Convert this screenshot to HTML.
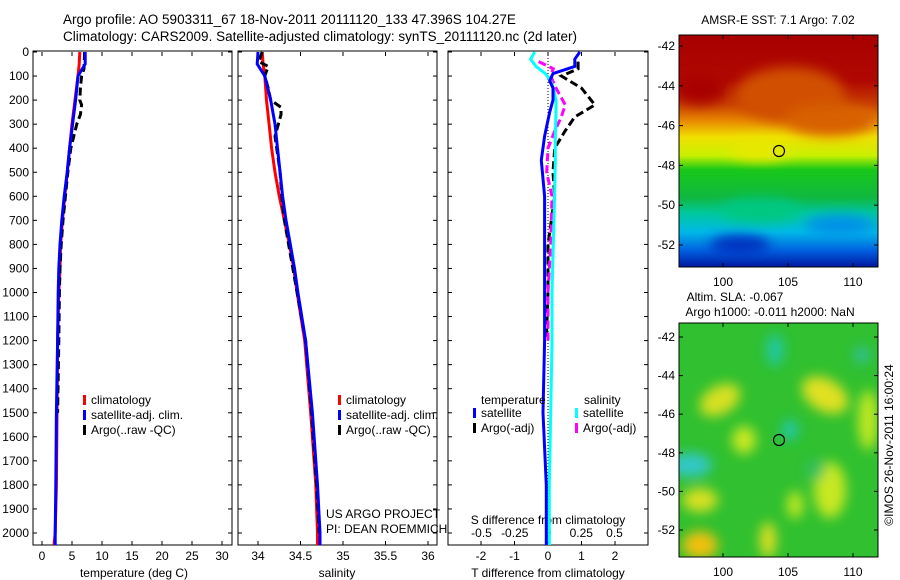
<!DOCTYPE html>
<html><head><meta charset="utf-8"><style>
html,body{margin:0;padding:0;background:#fff}
svg{display:block;font-family:"Liberation Sans",sans-serif;font-size:12px}
</style></head><body>
<svg id="fig" width="900" height="580" viewBox="0 0 900 580">
<defs>
<linearGradient id="sstg" x1="0" y1="0" x2="0" y2="1">
<stop offset="0" stop-color="#a80000"/><stop offset="0.2" stop-color="#b00800"/>
<stop offset="0.3" stop-color="#c84000"/><stop offset="0.37" stop-color="#e88800"/>
<stop offset="0.44" stop-color="#f0e000"/><stop offset="0.52" stop-color="#c8f000"/>
<stop offset="0.58" stop-color="#18c818"/><stop offset="0.7" stop-color="#10b840"/>
<stop offset="0.77" stop-color="#00c8a0"/><stop offset="0.85" stop-color="#00b8e8"/>
<stop offset="0.93" stop-color="#0060e0"/><stop offset="1" stop-color="#0018a0"/>
</linearGradient>
<filter id="blur6"><feGaussianBlur stdDeviation="6"/></filter>
<clipPath id="c1"><rect x="679" y="35" width="199" height="232"/></clipPath>
<clipPath id="c2"><rect x="679" y="323" width="199" height="234"/></clipPath>
</defs>
<text x="63" y="24" font-size="13.5">Argo profile: AO 5903311_67 18-Nov-2011 20111120_133 47.396S 104.27E</text>
<text x="63" y="41" font-size="13.5">Climatology: CARS2009. Satellite-adjusted climatology: synTS_20111120.nc (2d later)</text>
<g id="p1"></g>
<g id="p2"></g>
<g id="p3"></g>
<g>
<text x="778" y="24" text-anchor="middle">AMSR-E SST: 7.1 Argo: 7.02</text>
<g clip-path="url(#c1)">
<rect x="679" y="35" width="199" height="232" fill="url(#sstg)"/>
<g filter="url(#blur6)">
<ellipse cx="790" cy="95" rx="55" ry="28" fill="#d05000"/>
<ellipse cx="830" cy="120" rx="45" ry="16" fill="#d86000"/>
<ellipse cx="700" cy="90" rx="25" ry="14" fill="#a80000"/>
<ellipse cx="760" cy="150" rx="30" ry="10" fill="#e8e800"/>
<ellipse cx="760" cy="210" rx="40" ry="12" fill="#00c880"/>
<ellipse cx="840" cy="225" rx="35" ry="10" fill="#0090e8"/>
<ellipse cx="740" cy="245" rx="30" ry="10" fill="#0030c0"/>
</g>
</g>
<rect x="679" y="35" width="199" height="232" fill="none" stroke="#000"/>
<circle cx="779" cy="151" r="5.5" fill="none" stroke="#000" stroke-width="1.2"/>
<g id="m1ax"></g>
</g>
<g>
<text x="735" y="301" text-anchor="middle">Altim. SLA: -0.067</text>
<text x="770" y="316" text-anchor="middle">Argo h1000: -0.011 h2000: NaN</text>
<g clip-path="url(#c2)">
<rect x="679" y="323" width="199" height="234" fill="#30c030"/>
<g filter="url(#blur6)">
<ellipse cx="720" cy="400" rx="22" ry="14" fill="#d8e020" transform="rotate(-30 720 400)"/>
<ellipse cx="775" cy="350" rx="9" ry="16" fill="#20c8a0"/>
<ellipse cx="825" cy="395" rx="25" ry="16" fill="#e0e020" transform="rotate(30 825 395)"/>
<ellipse cx="744" cy="440" rx="12" ry="14" fill="#c8e820"/>
<ellipse cx="790" cy="430" rx="8" ry="10" fill="#20c8b0"/>
<ellipse cx="690" cy="465" rx="22" ry="12" fill="#30c8c8"/>
<ellipse cx="700" cy="500" rx="18" ry="12" fill="#d8e020"/>
<ellipse cx="830" cy="490" rx="16" ry="28" fill="#c8e820"/>
<ellipse cx="795" cy="505" rx="8" ry="14" fill="#c0e820"/>
<ellipse cx="700" cy="545" rx="18" ry="14" fill="#f0c010"/>
<ellipse cx="768" cy="540" rx="8" ry="18" fill="#e0e020"/>
<ellipse cx="868" cy="420" rx="10" ry="30" fill="#c0e820"/>
<ellipse cx="862" cy="355" rx="8" ry="8" fill="#30c0a0"/>
<ellipse cx="815" cy="470" rx="10" ry="10" fill="#30c060"/>
</g>
</g>
<rect x="679" y="323" width="199" height="234" fill="none" stroke="#000"/>
<circle cx="779" cy="440" r="5.5" fill="none" stroke="#000" stroke-width="1.2"/>
<g id="m2ax"></g>
<text transform="translate(893 445) rotate(-90)" text-anchor="middle">©IMOS 26-Nov-2011 16:00:24</text>
</g>
</svg>
<script>
// depth levels and profile data
const depthClim = [0,50,100,200,300,400,500,600,700,800,900,1000,1200,1500,1800,2000,2050];
const tempClim = [6.3,6.2,6.0,5.5,5.0,4.6,4.2,3.8,3.4,3.1,3.0,2.8,2.6,2.5,2.4,2.2,2.0];
const tempSat = [7.2,7.2,6.0,5.6,5.1,4.6,4.2,3.7,3.3,3.0,2.8,2.7,2.6,2.4,2.3,2.2,2.2];
const depthArgoT = [0,70,100,150,200,220,260,300,350,400,500,600,700,800,900,1000,1200,1500];
const tempArgo = [7.1,7.0,6.6,6.4,6.3,6.6,6.4,5.8,5.3,4.8,4.3,3.9,3.5,3.2,3.0,2.9,2.8,2.6];
const salClim = [34.05,34.06,34.08,34.1,34.13,34.16,34.2,34.25,34.31,34.37,34.42,34.46,34.55,34.62,34.68,34.7,34.7];
const salSat = [34.0,33.99,34.08,34.15,34.2,34.23,34.26,34.29,34.33,34.38,34.43,34.47,34.56,34.64,34.7,34.73,34.73];
const depthArgoS = [0,40,60,100,150,200,230,260,300,350,400,500,600,700,800,1000,1200,1500,1800,2000];
const salArgo = [34.05,34.01,34.12,34.08,34.12,34.15,34.27,34.27,34.24,34.2,34.22,34.26,34.28,34.31,34.36,34.46,34.56,34.63,34.69,34.72];
const depthDiff = [0,30,60,90,120,150,200,250,350,450,600,800,1000,1200,1500,1800,2050];
const dTSat = [0.95,0.8,0.8,0.15,0.05,0.15,0.15,0.05,-0.1,-0.2,-0.1,-0.1,-0.1,-0.1,-0.15,-0.05,-0.05];
const dSSat = [-0.1,-0.13,-0.09,-0.02,0.02,0.04,0.06,0.06,0.055,0.055,0.05,0.04,0.03,0.03,0.02,0.01,0.01];
const depthDiffArgo = [40,70,100,150,220,270,330,400,500,600,800,1000,1200];
const dTArgo = [0.9,0.9,0.4,1.0,1.4,0.8,0.5,0.2,0.15,0.2,0.0,0.0,-0.05];
const dSArgo = [-0.07,0.04,0.02,0.06,0.13,0.1,0.05,0.0,-0.01,0.03,0.02,0.0,0.0];
const depthTicks = [0,100,200,300,400,500,600,700,800,900,1000,1100,1200,1300,1400,1500,1600,1700,1800,1900,2000];
const tempTicks = [0,5,10,15,20,25,30];
const salTicks = [34,34.5,35,35.5,36];
const dTTicks = [-2,-1,0,1,2];
const dSTicks = [-0.5,-0.25,0,0.25,0.5];
const lonTicks = [100,105,110];
const latTicks = [-42,-44,-46,-48,-50,-52];

const NS='http://www.w3.org/2000/svg';
function mk(parent,tag,attrs){const e=document.createElementNS(NS,tag);for(const k in attrs)e.setAttribute(k,attrs[k]);parent.appendChild(e);return e;}
const Y0=52, KY=0.2405, YB=545;
const yD=d=>Y0+d*KY;
const xT=t=>42+6*t;
const xS=s=>258+85*(s-34);
const xDT=t=>548+33.5*t;
const xDS=s=>548+133*s;

function frame(g,x0,x1,name){
  const r=mk(g,'rect',{x:x0,y:Y0-1,width:x1-x0,height:YB-Y0+1,fill:'none',stroke:'#000'});
  
  
  depthTicks.forEach(d=>{
    mk(g,'line',{x1:x0,x2:x0+4,y1:yD(d),y2:yD(d),stroke:'#000'});
    mk(g,'line',{x1:x1-4,x2:x1,y1:yD(d),y2:yD(d),stroke:'#000'});
  });
}
function line(g,xs,ds,fx,color,w,dash,name){
  const pts=xs.map((v,i)=>fx(v).toFixed(1)+','+yD(ds[i]).toFixed(1)).join(' ');
  const p=mk(g,'polyline',{points:pts,fill:'none',stroke:color,'stroke-width':w});
  if(dash)p.setAttribute('stroke-dasharray',dash);
  
  
}
function xticks(g,ticks,fx,y,labelY){
  ticks.forEach(t=>{
    mk(g,'line',{x1:fx(t),x2:fx(t),y1:YB,y2:YB-4,stroke:'#000'});
    mk(g,'line',{x1:fx(t),x2:fx(t),y1:Y0,y2:Y0+4,stroke:'#000'});
    const tx=mk(g,'text',{x:fx(t),y:labelY,'text-anchor':'middle'});tx.textContent=String(t);
    
    
  });
}
function legend(g,x,y,items){
  items.forEach((it,i)=>{
    mk(g,'rect',{x:x,y:y+i*15-9,width:3,height:10,fill:it[1]});
    const t=mk(g,'text',{x:x+8,y:y+i*15});t.textContent=it[0];
    
    
  });
}
// Panel 1
const p1=document.getElementById('p1');
frame(p1,33,232,'temperature-panel');
depthTicks.forEach(d=>{const t=mk(p1,'text',{x:29,y:yD(d)+4,'text-anchor':'end'});t.textContent=d;
  
  });
xticks(p1,tempTicks,xT,YB,560);
let t1=mk(p1,'text',{x:134,y:577,'text-anchor':'middle'});t1.textContent='temperature (deg C)';


line(p1,tempClim,depthClim,xT,'#f00',3,null,'temp-climatology-line');
line(p1,tempArgo,depthArgoT,xT,'#000',3,'8,4','temp-argo-line');
line(p1,tempSat,depthClim,xT,'#00f',3,null,'temp-satellite-line');
legend(p1,83,404,[['climatology','#f00'],['satellite-adj. clim.','#00f'],['Argo(..raw -QC)','#000']]);
// Panel 2
const p2=document.getElementById('p2');
frame(p2,238,437,'salinity-panel');
xticks(p2,salTicks,xS,YB,560);
let t2=mk(p2,'text',{x:337,y:577,'text-anchor':'middle'});t2.textContent='salinity';


line(p2,salClim,depthClim,xS,'#f00',3,null,'sal-climatology-line');
line(p2,salArgo,depthArgoS,xS,'#000',3,'8,4','sal-argo-line');
line(p2,salSat,depthClim,xS,'#00f',3,null,'sal-satellite-line');
legend(p2,338,404,[['climatology','#f00'],['satellite-adj. clim.','#00f'],['Argo(..raw -QC)','#000']]);
let u1=mk(p2,'text',{x:326,y:518});u1.textContent='US ARGO PROJECT';


let u2=mk(p2,'text',{x:326,y:533});u2.textContent='PI: DEAN ROEMMICH';


// Panel 3
const p3=document.getElementById('p3');
frame(p3,448,648,'difference-panel');
mk(p3,'line',{x1:548,x2:548,y1:Y0,y2:YB,stroke:'#000','stroke-dasharray':'1,2'});
xticks(p3,dTTicks,xDT,YB,560);
dSTicks.forEach(s=>{const t=mk(p3,'text',{x:xDS(s),y:537,'text-anchor':'middle'});t.textContent=String(s);
  
  });
let t3=mk(p3,'text',{x:548,y:524,'text-anchor':'middle'});t3.textContent='S difference from climatology';


let t4=mk(p3,'text',{x:548,y:577,'text-anchor':'middle'});t4.textContent='T difference from climatology';


line(p3,dTArgo,depthDiffArgo,xDT,'#000',3,'8,4','dT-argo-line');
line(p3,dSArgo,depthDiffArgo,xDS,'#f0f',3,'8,4','dS-argo-line');
line(p3,dSSat,depthDiff,xDS,'#0ff',3,null,'dS-satellite-line');
line(p3,dTSat,depthDiff,xDT,'#00f',3,null,'dT-satellite-line');
let h1=mk(p3,'text',{x:481,y:404});h1.textContent='temperature';


let h2=mk(p3,'text',{x:584,y:404});h2.textContent='salinity';


legend(p3,473,417,[['satellite','#00f'],['Argo(-adj)','#000']]);
legend(p3,575,417,[['satellite','#0ff'],['Argo(-adj)','#f0f']]);
// Map axes
function mapAxes(id,top,bot,lat42,lat52,labY){
  const g=document.getElementById(id);
  const fy=l=>lat42+(l+42)*(lat52-lat42)/(-10);
  const fx=l=>723+(l-100)*13;
  latTicks.forEach(l=>{
    mk(g,'line',{x1:679,x2:683,y1:fy(l),y2:fy(l),stroke:'#000'});
    mk(g,'line',{x1:874,x2:878,y1:fy(l),y2:fy(l),stroke:'#000'});
    const t=mk(g,'text',{x:675,y:fy(l)+4,'text-anchor':'end'});t.textContent=l;
    
    
  });
  lonTicks.forEach(l=>{
    mk(g,'line',{x1:fx(l),x2:fx(l),y1:bot,y2:bot-4,stroke:'#000'});
    mk(g,'line',{x1:fx(l),x2:fx(l),y1:top,y2:top+4,stroke:'#000'});
    const t=mk(g,'text',{x:fx(l),y:labY,'text-anchor':'middle'});t.textContent=l;
    
    
  });
}
mapAxes('m1ax',35,267,46,245,286);
mapAxes('m2ax',323,557,337,530,576);
</script>
</body></html>
